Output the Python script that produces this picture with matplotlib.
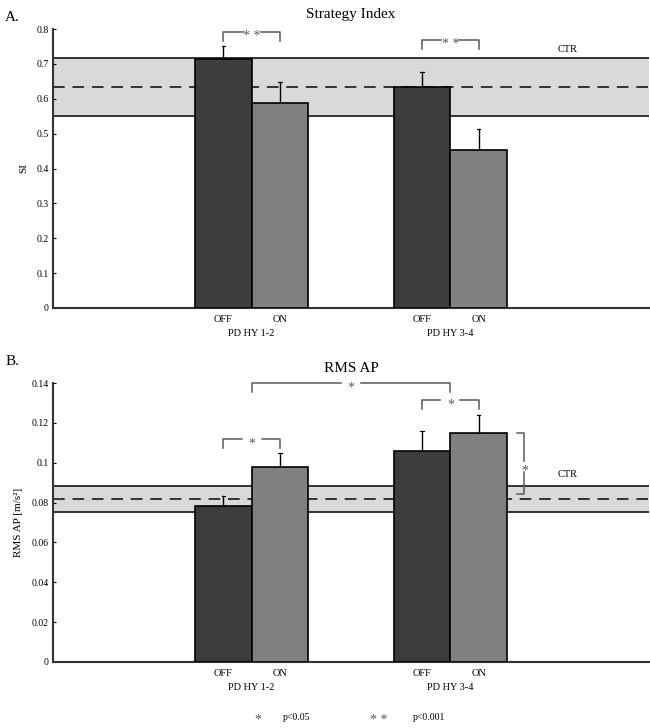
import numpy as np
import matplotlib.pyplot as plt
from matplotlib.transforms import offset_copy

plt.rcParams['font.family'] = ['Liberation Serif', 'DejaVu Serif']

groups = ['PD HY 1-2', 'PD HY 3-4']
conditions = ['OFF', 'ON']

# strategy index (panel A)
si_off = [0.714, 0.633]
si_on = [0.587, 0.452]
si_off_err = [0.038, 0.045]
si_on_err = [0.060, 0.061]
si_ctr = [0.552, 0.634, 0.716]   # lower, mean, upper

# RMS AP (panel B)
rms_off = [0.0784, 0.1060]
rms_on = [0.0980, 0.1149]
rms_off_err = [0.0047, 0.0100]
rms_on_err = [0.0069, 0.0090]
rms_ctr = [0.0754, 0.0818, 0.0885]

dark = '#3d3d3d'
light = '#808080'
band = '#d9d9d9'
line_col = '#333333'
brk_col = '#5a5a5a'

centers = np.array([1.0, 2.0])
bw = 0.285


def star(ax, x, y, label, fig):
    # asterisks sit high in the glyph box, pull them down onto the line
    tr = offset_copy(ax.transData, fig=fig, x=0, y=-3.2, units='points')
    ax.text(x, y, label, ha='center', va='center', fontsize=10, color=brk_col, transform=tr)


def bracket(ax, x0, x1, y, h, label, gap):
    xm = (x0 + x1) / 2
    ax.plot([x0, x0, xm - gap], [y - h, y, y], color=brk_col, lw=1.1, clip_on=False)
    ax.plot([xm + gap, x1, x1], [y, y, y - h], color=brk_col, lw=1.1, clip_on=False)
    star(ax, xm, y, label, ax.figure)


def panel(ax, off, on, off_err, on_err, ctr, ymax, yticks, ylabel, title):
    ax.axhspan(ctr[0], ctr[2], color=band, zorder=0, lw=0)
    ax.axhline(ctr[0], color=line_col, lw=1.4, zorder=1)
    ax.axhline(ctr[2], color=line_col, lw=1.4, zorder=1)
    ax.axhline(ctr[1], color=line_col, lw=1.4, ls=(0, (6, 4)), zorder=1)
    xo = centers - bw / 2
    xn = centers + bw / 2
    ax.bar(xo, off, bw, color=dark, edgecolor='black', lw=1.2, zorder=3)
    ax.bar(xn, on, bw, color=light, edgecolor='black', lw=1.2, zorder=3)
    for x, v, e in zip(np.concatenate([xo, xn]), off + on, off_err + on_err):
        ax.plot([x, x], [v, v + e], color='black', lw=1.0, zorder=2)
        ax.plot([x - 0.008, x + 0.008], [v + e, v + e], color='black', lw=0.8, zorder=2)
    ax.set_xlim(0, 3)
    ax.set_ylim(0, ymax)
    ax.set_yticks(yticks)
    ax.set_yticklabels([('%g' % t) for t in yticks], fontsize=7)
    ax.set_xticks(list(xo) + list(xn))
    ax.set_xticklabels(['OFF', 'OFF', 'ON', 'ON'], fontsize=7.5)
    for c, g in zip(centers, groups):
        ax.text(c, -0.093, g, transform=ax.get_xaxis_transform(), ha='center', va='center', fontsize=7.5)
    ax.tick_params(axis='both', length=2, width=0.8, direction='in', pad=3)
    ax.tick_params(axis='x', length=0, pad=5)
    for s in ['top', 'right']:
        ax.spines[s].set_visible(False)
    for s in ['left', 'bottom']:
        ax.spines[s].set_linewidth(1.5)
        ax.spines[s].set_color('#333333')
    ax.set_ylabel(ylabel, fontsize=8, labelpad=6)
    ax.set_title(title, fontsize=11, pad=8)
    return xo, xn


fig = plt.figure(figsize=(6.5, 7.28), dpi=100)
ax1 = fig.add_axes([0.0815, 0.577, 0.917, 0.383])
ax2 = fig.add_axes([0.0815, 0.0907, 0.917, 0.383])

xo, xn = panel(ax1, si_off, si_on, si_off_err, si_on_err, si_ctr, 0.8,
               [0, 0.1, 0.2, 0.3, 0.4, 0.5, 0.6, 0.7, 0.8], 'SI', 'Strategy Index')
bracket(ax1, xo[0], xn[0], 0.793, 0.026, '* *', 0.045)
bracket(ax1, xo[1], xn[1], 0.768, 0.025, '* *', 0.045)
ax1.text(2.59, 0.742, 'CTR', ha='center', va='center', fontsize=7.5)

xo, xn = panel(ax2, rms_off, rms_on, rms_off_err, rms_on_err, rms_ctr, 0.14,
               [0, 0.02, 0.04, 0.06, 0.08, 0.1, 0.12, 0.14], 'RMS AP [m/s²]', 'RMS AP')
bracket(ax2, centers[0], centers[1], 0.140, 0.0042, '*', 0.05)
bracket(ax2, xo[1], xn[1], 0.1313, 0.0043, '*', 0.05)
bracket(ax2, xo[0], xn[0], 0.1119, 0.0045, '*', 0.05)
# vertical bracket between ON of group 2 and CTR
vx0, vx1 = 2.333, 2.373
ax2.plot([vx0, vx1, vx1], [0.1149, 0.1149, 0.1010], color=brk_col, lw=1.1)
ax2.plot([vx1, vx1, vx0], [0.0955, 0.0845, 0.0845], color=brk_col, lw=1.1)
star(ax2, vx1, 0.0982, '*', fig)
ax2.text(2.59, 0.0940, 'CTR', ha='center', va='center', fontsize=7.5)

fig.text(0.008, 0.985, 'A.', fontsize=11, va='top')
fig.text(0.008, 0.512, 'B.', fontsize=11, va='top')

fig.text(258 / 650, 1 - 720 / 728, '*', fontsize=10, color=brk_col, ha='center', va='center')
fig.text(283 / 650, 1 - 718 / 728, 'p<0.05', fontsize=7, ha='left', va='center')
fig.text(379 / 650, 1 - 720 / 728, '* *', fontsize=10, color=brk_col, ha='center', va='center')
fig.text(413 / 650, 1 - 718 / 728, 'p<0.001', fontsize=7, ha='left', va='center')

fig.savefig('out.png', dpi=100)
